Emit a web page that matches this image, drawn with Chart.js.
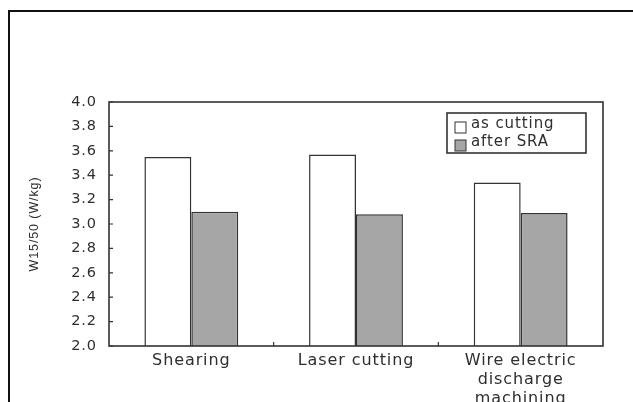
<!DOCTYPE html>
<html>
<head>
<meta charset="utf-8">
<script src="https://cdn.jsdelivr.net/npm/chart.js@4.4.1/dist/chart.umd.min.js"></script>
<style>
  html, body { margin: 0; padding: 0; background: #fff; }
  #wrap { position: relative; width: 633px; height: 402px; overflow: hidden; }
  #frame { position: absolute; left: 8px; top: 10px; width: 640px; height: 400px;
           border-left: 2px solid #111; border-top: 2px solid #111; }
  #grafico { position: absolute; left: 0; top: 0; }
</style>
</head>
<body>
<div id="wrap">
  <div id="frame"></div>
  <canvas id="grafico" width="633" height="402"></canvas>
</div>
<script>
// dados
const categorias = ["Shearing", "Laser cutting", ["Wire electric", "discharge", "machining"]];
const asCutting = [3.55, 3.57, 3.34];
const afterSRA = [3.10, 3.08, 3.09];
const yTicks = [2.0, 2.2, 2.4, 2.6, 2.8, 3.0, 3.2, 3.4, 3.6, 3.8, 4.0];

const corTexto = "#2e2e2e";
const fonteLarga = "'DejaVu Sans', Verdana, sans-serif";
const fonte = "'Liberation Sans', Arial, sans-serif";
const espacamento = "0.9px";

// texto do original é mais "largo": espaçamento entre letras
const espacoPlugin = {
  id: "espaco",
  beforeLayout(chart) { chart.ctx.letterSpacing = espacamento; },
  beforeDraw(chart) { chart.ctx.letterSpacing = espacamento; }
};

// moldura + ticks para dentro
const molduraPlugin = {
  id: "moldura",
  afterDatasetsDraw(chart) {
    const { ctx, chartArea: a, scales } = chart;
    ctx.save();
    ctx.strokeStyle = "#333";
    ctx.lineWidth = 1.6;
    ctx.strokeRect(a.left, a.top, a.right - a.left, a.bottom - a.top);
    ctx.lineWidth = 1.2;
    ctx.beginPath();
    yTicks.forEach((v) => {
      const y = scales.y.getPixelForValue(v);
      ctx.moveTo(a.left, y);
      ctx.lineTo(a.left + 4, y);
    });
    // ticks entre categorias
    for (let i = 0; i < categorias.length - 1; i++) {
      const x = (scales.x.getPixelForValue(i) + scales.x.getPixelForValue(i + 1)) / 2;
      ctx.moveTo(x, a.bottom);
      ctx.lineTo(x, a.bottom - 4);
    }
    ctx.stroke();
    ctx.restore();
  }
};

// legenda dentro do gráfico
const legendaPlugin = {
  id: "legendaInterna",
  afterDraw(chart) {
    const { ctx } = chart;
    const x0 = 447, y0 = 113, w = 139, h = 40;
    ctx.save();
    ctx.letterSpacing = espacamento;
    ctx.strokeStyle = "#333";
    ctx.lineWidth = 1.6;
    ctx.strokeRect(x0, y0, w, h);
    ctx.font = "15px " + fonteLarga;
    ctx.textBaseline = "alphabetic";
    chart.data.datasets.forEach((ds, i) => {
      const yy = y0 + 9 + i * 18;
      ctx.fillStyle = ds.backgroundColor;
      ctx.fillRect(x0 + 8, yy, 11, 11);
      ctx.strokeStyle = "#333";
      ctx.lineWidth = 1;
      ctx.strokeRect(x0 + 8, yy, 11, 11);
      ctx.fillStyle = corTexto;
      ctx.fillText(ds.label, x0 + 24, yy + 6);
    });
    ctx.restore();
  }
};

new Chart(document.getElementById("grafico"), {
  type: "bar",
  data: {
    labels: categorias,
    datasets: [
      {
        label: "as cutting",
        data: asCutting,
        backgroundColor: "#ffffff",
        borderColor: "#333",
        borderWidth: 1.5
      },
      {
        label: "after SRA",
        data: afterSRA,
        backgroundColor: "#a6a6a6",
        borderColor: "#333",
        borderWidth: 1.5
      }
    ]
  },
  options: {
    responsive: false,
    animation: false,
    layout: { padding: { top: 102, right: 30, left: 0, bottom: 0 } },
    plugins: { legend: { display: false }, tooltip: { enabled: false } },
    datasets: { bar: { categoryPercentage: 0.57, barPercentage: 1 } },
    scales: {
      x: {
        grid: { display: false },
        border: { display: false },
        ticks: {
          color: corTexto,
          font: { family: fonteLarga, size: 16, lineHeight: 1.2 },
          padding: -3,
          maxRotation: 0,
          autoSkip: false
        },
        afterFit: (s) => { s.height = 56; }
      },
      y: {
        min: 2.0,
        max: 4.0,
        grid: { display: false, drawTicks: false },
        border: { display: false },
        afterBuildTicks: (s) => { s.ticks = yTicks.map((v) => ({ value: v })); },
        ticks: {
          color: corTexto,
          font: { family: fonteLarga, size: 14.5 },
          padding: 12,
          callback: (v) => Number(v).toFixed(1)
        },
        title: {
          display: true,
          text: "W15/50 (W/kg)",
          color: corTexto,
          font: { family: fonte, size: 12.5 },
          padding: { top: 27, bottom: 0 }
        },
        afterFit: (s) => { s.width = 109; }
      }
    }
  },
  plugins: [espacoPlugin, molduraPlugin, legendaPlugin]
});
</script>
</body>
</html>
